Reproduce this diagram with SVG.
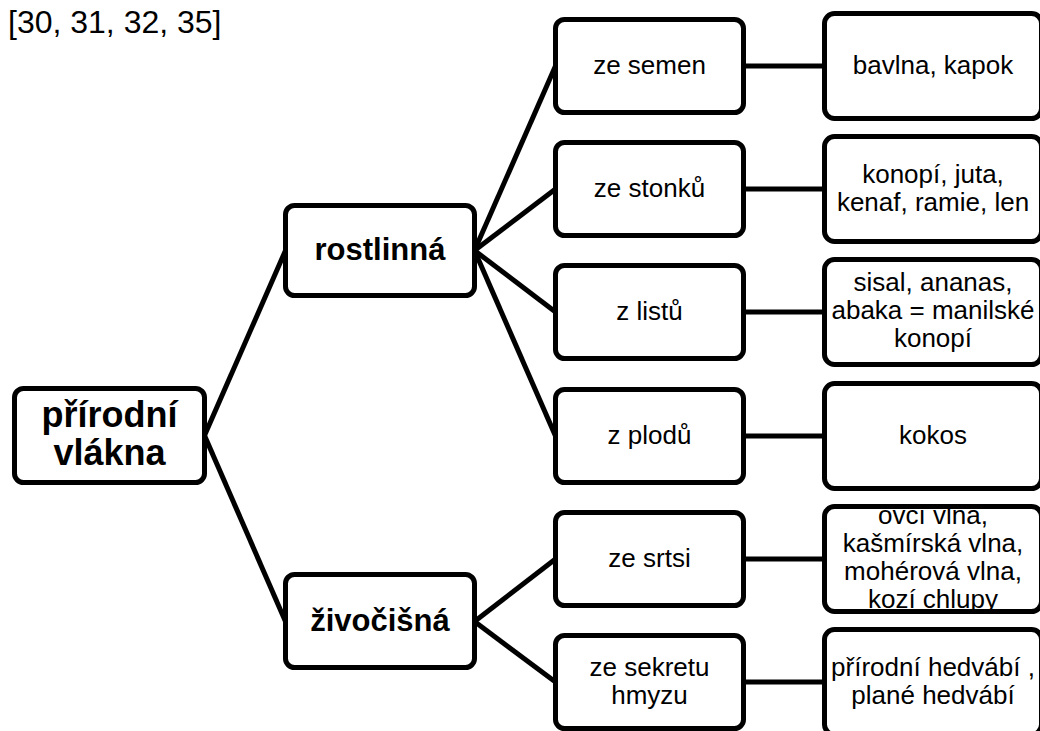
<svg xmlns="http://www.w3.org/2000/svg" width="1040" height="731" viewBox="0 0 1040 731">
<style>
.box{fill:#fff;stroke:#000;stroke-width:5}
.ln{stroke:#000;stroke-width:5;fill:none}
text{font-family:"Liberation Sans",Arial,sans-serif;fill:#000;text-anchor:middle}
.t{font-size:26px}
.b1{font-size:36px;font-weight:bold}
.b2{font-size:31px;font-weight:bold}
</style>
<rect width="1040" height="731" fill="#fff"/>
<text x="8" y="33" style="font-size:32px;text-anchor:start">[30, 31, 32, 35]</text>
<g id="connectors">
<line class="ln" x1="204.5" y1="435.5" x2="285.5" y2="250.5"/>
<line class="ln" x1="204.5" y1="435.5" x2="285.5" y2="621.5"/>
<line class="ln" x1="474.5" y1="250.5" x2="555.5" y2="66"/>
<line class="ln" x1="474.5" y1="250.5" x2="555.5" y2="189"/>
<line class="ln" x1="474.5" y1="250.5" x2="555.5" y2="312"/>
<line class="ln" x1="474.5" y1="250.5" x2="555.5" y2="436"/>
<line class="ln" x1="474.5" y1="621.5" x2="555.5" y2="559"/>
<line class="ln" x1="474.5" y1="621.5" x2="555.5" y2="682"/>
<line class="ln" x1="743.5" y1="66" x2="824.5" y2="66"/>
<line class="ln" x1="743.5" y1="189" x2="824.5" y2="189"/>
<line class="ln" x1="743.5" y1="312" x2="824.5" y2="312"/>
<line class="ln" x1="743.5" y1="436" x2="824.5" y2="436"/>
<line class="ln" x1="743.5" y1="559" x2="824.5" y2="559"/>
<line class="ln" x1="743.5" y1="682" x2="824.5" y2="682"/>
</g>
<g id="root"><rect class="box" x="14.5" y="388.5" width="190" height="94" rx="9"/>
<text class="b1" x="109.5" y="427">přírodní</text><text class="b1" x="109.5" y="465">vlákna</text></g>
<g id="rostlinna"><rect class="box" x="285.5" y="205.5" width="189" height="90" rx="9"/>
<text class="b2" x="380" y="260">rostlinná</text></g>
<g id="zivocisna"><rect class="box" x="285.5" y="574.5" width="189" height="93" rx="9"/>
<text class="b2" x="380" y="631">živočišná</text></g>
<g id="ze-semen"><rect class="box" x="555.5" y="19.5" width="188" height="93" rx="9"/>
<text class="t" x="649.5" y="74">ze semen</text></g>
<g id="ze-stonku"><rect class="box" x="555.5" y="142.5" width="188" height="93" rx="9"/>
<text class="t" x="649.5" y="197">ze stonků</text></g>
<g id="z-listu"><rect class="box" x="555.5" y="265.5" width="188" height="93" rx="9"/>
<text class="t" x="649.5" y="320">z listů</text></g>
<g id="z-plodu"><rect class="box" x="555.5" y="389.5" width="188" height="93" rx="9"/>
<text class="t" x="649.5" y="444">z plodů</text></g>
<g id="ze-srtsi"><rect class="box" x="555.5" y="512.5" width="188" height="93" rx="9"/>
<text class="t" x="649.5" y="567">ze srtsi</text></g>
<g id="ze-sekretu"><rect class="box" x="555.5" y="635.5" width="188" height="93" rx="9"/>
<text class="t" x="649.5" y="676">ze sekretu</text><text class="t" x="649.5" y="704">hmyzu</text></g>
<g id="bavlna"><rect class="box" x="824.5" y="13.5" width="217" height="105" rx="10"/>
<text class="t" x="933" y="74">bavlna, kapok</text></g>
<g id="konopi"><rect class="box" x="824.5" y="136.5" width="217" height="105" rx="10"/>
<text class="t" x="933" y="183">konopí, juta,</text><text class="t" x="933" y="211">kenaf, ramie, len</text></g>
<g id="sisal"><rect class="box" x="824.5" y="259.5" width="217" height="105" rx="10"/>
<text class="t" x="933" y="291">sisal, ananas,</text><text class="t" x="933" y="319">abaka = manilské</text><text class="t" x="933" y="347">konopí</text></g>
<g id="kokos"><rect class="box" x="824.5" y="383.5" width="217" height="105" rx="10"/>
<text class="t" x="933" y="444">kokos</text></g>
<g id="vlna"><rect class="box" x="824.5" y="506.5" width="217" height="105" rx="10"/>
<text class="t" x="933" y="524">ovčí vlna,</text><text class="t" x="933" y="552">kašmírská vlna,</text><text class="t" x="933" y="580">mohérová vlna,</text><text class="t" x="933" y="608">kozí chlupy</text></g>
<g id="hedvabi"><rect class="box" x="824.5" y="629.5" width="217" height="105" rx="10"/>
<text class="t" x="933" y="676">přírodní hedvábí ,</text><text class="t" x="933" y="704">plané hedvábí</text></g>
</svg>
